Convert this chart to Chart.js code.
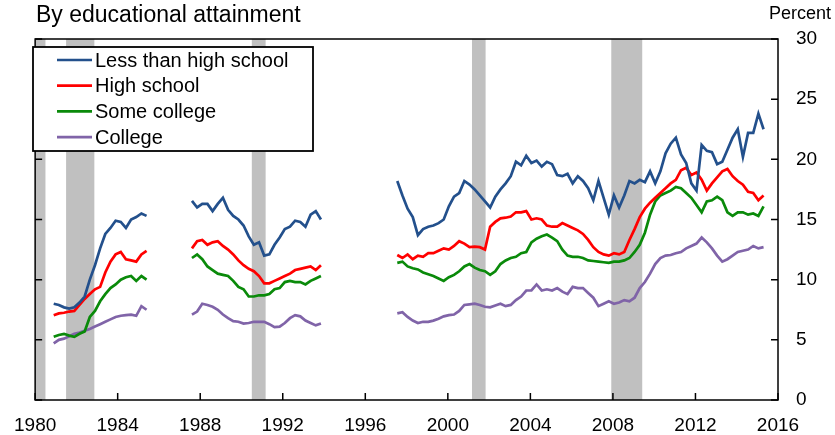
<!DOCTYPE html>
<html>
<head>
<meta charset="utf-8">
<script src="https://cdn.jsdelivr.net/npm/chart.js@4.4.1/dist/chart.umd.min.js"></script>
<style>
  html, body { margin: 0; padding: 0; background: #fff; }
</style>
</head>
<body>
<canvas id="chart" width="835" height="435"></canvas>
<script>
// quarterly points, null = no data
const years = [
  1980.9, 1981.15, 1981.4, 1981.65, 1981.9, 1982.15, 1982.4, 1982.65, 1982.9, 1983.15,
  1983.4, 1983.65, 1983.9, 1984.15, 1984.4, 1984.65, 1984.9, 1985.15, 1985.4,
  1986.5,
  1987.6, 1987.85, 1988.1, 1988.35, 1988.6, 1988.85, 1989.1, 1989.35, 1989.6, 1989.85,
  1990.1, 1990.35, 1990.6, 1990.85, 1991.1, 1991.35, 1991.6, 1991.85, 1992.1, 1992.35,
  1992.6, 1992.85, 1993.1, 1993.35, 1993.6, 1993.85,
  1995.5,
  1997.55, 1997.8, 1998.05, 1998.3, 1998.55, 1998.8, 1999.05, 1999.3, 1999.55, 1999.8,
  2000.05, 2000.3, 2000.55, 2000.8, 2001.05, 2001.3, 2001.55, 2001.8, 2002.05, 2002.3,
  2002.55, 2002.8, 2003.05, 2003.3, 2003.55, 2003.8, 2004.05, 2004.3, 2004.55, 2004.8,
  2005.05, 2005.3, 2005.55, 2005.8, 2006.05, 2006.3, 2006.55, 2006.8, 2007.05, 2007.3,
  2007.55, 2007.8, 2008.05, 2008.3, 2008.55, 2008.8, 2009.05, 2009.3, 2009.55, 2009.8,
  2010.05, 2010.3, 2010.55, 2010.8, 2011.05, 2011.3, 2011.55, 2011.8, 2012.05, 2012.3,
  2012.55, 2012.8, 2013.05, 2013.3, 2013.55, 2013.8, 2014.05, 2014.3, 2014.55, 2014.8,
  2015.05, 2015.3
];

const lessThanHighSchool = [
  8.0, 7.9, 7.7, 7.6, 7.7, 8.1, 8.6, 10.0, 11.2, 12.6, 13.8, 14.3, 14.9, 14.8, 14.3, 15.0, 15.2, 15.5, 15.3,
  null,
  16.55, 16.0, 16.3, 16.3, 15.7, 16.3, 16.8, 15.8, 15.3, 15.0, 14.5, 13.6, 12.9, 13.1, 12.0, 12.1,
  12.9, 13.5, 14.2, 14.4, 14.9, 14.8, 14.4, 15.4, 15.7, 15.0,
  null,
  18.2, 17.0, 15.9, 15.2, 13.7, 14.2, 14.4, 14.5, 14.7, 15.0, 16.1, 16.9, 17.2, 18.2, 17.9, 17.5,
  17.0, 16.5, 16.0, 16.9, 17.5, 18.0, 18.6, 19.8, 19.5, 20.3, 19.7, 19.9, 19.4, 19.8, 19.6, 18.7,
  18.6, 18.8, 18.0, 18.6, 18.2, 17.6, 16.6, 18.2, 16.8, 15.4, 17.0, 16.0, 17.0, 18.2, 18.0, 18.3,
  18.1, 19.0, 18.0, 19.0, 20.5, 21.3, 21.8, 20.4, 19.7, 18.0, 17.4, 21.2, 20.7, 20.6, 19.6, 19.8,
  20.8, 21.8, 22.5, 20.2, 22.2, 22.2, 23.8, 22.5
];

const highSchool = [
  7.05, 7.2, 7.25, 7.35, 7.4, 7.9, 8.4, 8.8, 9.2, 9.4, 10.6, 11.5, 12.1, 12.3, 11.7, 11.6, 11.5, 12.1, 12.4,
  null,
  12.6, 13.2, 13.3, 12.9, 13.1, 13.2, 12.8, 12.5, 12.1, 11.6, 11.2, 10.9, 10.7, 10.3, 9.7, 9.7,
  9.9, 10.1, 10.3, 10.5, 10.8, 10.9, 11.0, 11.1, 10.8, 11.2,
  null,
  12.05, 11.8, 12.1, 11.7, 12.0, 11.9, 12.2, 12.2, 12.4, 12.6, 12.5, 12.8, 13.2, 13.0, 12.7, 12.75,
  12.7, 12.5, 14.4, 14.8, 15.1, 15.15, 15.25, 15.6, 15.6, 15.7, 15.0, 15.1, 15.0, 14.5, 14.4, 14.4,
  14.7, 14.5, 14.3, 14.1, 13.8, 13.3, 12.7, 12.3, 12.1, 12.0, 12.2, 12.1, 12.3, 13.3, 14.2, 15.2,
  15.9, 16.4, 16.8, 17.2, 17.6, 18.0, 18.3, 19.1, 19.3, 18.7, 18.9, 18.3, 17.4, 18.0, 18.5, 19.0,
  19.2, 18.6, 18.2, 17.9, 17.3, 17.2, 16.6, 17.0
];

const someCollege = [
  5.25, 5.4, 5.5, 5.35, 5.25, 5.5, 5.7, 6.9, 7.4, 8.2, 8.8, 9.3, 9.6, 10.0, 10.2, 10.3, 9.9, 10.3, 10.0,
  null,
  11.8, 12.1, 11.7, 11.1, 10.8, 10.5, 10.4, 10.3, 9.9, 9.4, 9.2, 8.6, 8.6, 8.7, 8.7, 8.8,
  9.2, 9.3, 9.8, 9.9, 9.8, 9.8, 9.6, 9.9, 10.1, 10.3,
  null,
  11.4, 11.5, 11.1, 10.95, 10.85, 10.6, 10.45, 10.3, 10.1, 9.9, 10.2, 10.4, 10.7, 11.1, 11.3, 11.0,
  10.8, 10.7, 10.4, 10.7, 11.3, 11.6, 11.8, 11.9, 12.2, 12.3, 13.1, 13.4, 13.6, 13.75, 13.5, 13.2,
  12.5, 12.0, 11.9, 11.9, 11.8, 11.6, 11.55, 11.5, 11.45, 11.4, 11.5, 11.5, 11.6, 11.8, 12.3, 12.9,
  13.9, 15.4, 16.5, 17.0, 17.2, 17.4, 17.7, 17.6, 17.2, 16.8, 16.2, 15.6, 16.5, 16.6, 16.9, 16.6,
  15.6, 15.3, 15.6, 15.6, 15.4, 15.5, 15.3, 16.1
];

const college = [
  4.7, 5.0, 5.1, 5.3, 5.5, 5.6, 5.75, 5.9, 6.1, 6.3, 6.5, 6.7, 6.9, 7.0, 7.05, 7.1, 7.0, 7.8, 7.5,
  null,
  7.1, 7.35, 8.0, 7.9, 7.75, 7.5, 7.1, 6.8, 6.55, 6.5, 6.35, 6.4, 6.5, 6.5, 6.5, 6.3,
  6.05, 6.1, 6.4, 6.8, 7.05, 6.95, 6.6, 6.4, 6.2, 6.35,
  null,
  7.2, 7.3, 6.9, 6.6, 6.4, 6.5, 6.5, 6.6, 6.75, 6.95, 7.05, 7.1, 7.4, 7.9, 7.95, 8.0,
  7.9, 7.75, 7.7, 7.85, 8.0, 7.8, 7.9, 8.3, 8.6, 9.1, 9.1, 9.6, 9.1, 9.2, 9.1, 9.3,
  9.0, 8.8, 9.4, 9.3, 9.3, 8.9, 8.5, 7.8, 8.0, 8.2, 8.0, 8.1, 8.3, 8.2, 8.5, 9.3,
  9.8, 10.5, 11.3, 11.8, 12.0, 12.05, 12.2, 12.3, 12.6, 12.8, 13.0, 13.5, 13.1, 12.6, 12.0, 11.5,
  11.7, 12.0, 12.3, 12.4, 12.5, 12.8, 12.6, 12.7
];

const seriesLabels = ["Less than high school", "High school", "Some college", "College"];
const seriesColors = ["#23508c", "#ff0000", "#0a8a0a", "#8064a8"];

const recessionStart = [1980.0, 1981.5, 1990.5, 2001.17, 2007.92];
const recessionEnd = [1980.5, 1982.87, 1991.17, 2001.83, 2009.42];

const FONT = "'Liberation Sans', Arial, sans-serif";

const series = [lessThanHighSchool, highSchool, someCollege, college];
const datasets = series.map((values, i) => ({
  label: seriesLabels[i],
  data: years.map((x, j) => ({ x: x, y: values[j] })),
  borderColor: seriesColors[i],
  borderWidth: 2.7,
  pointRadius: 0,
  tension: 0,
  spanGaps: false,
}));

// grey recession bands behind the lines
const recessionBars = {
  id: "recessionBars",
  beforeDatasetsDraw(chart) {
    const { ctx, chartArea, scales } = chart;
    ctx.save();
    ctx.fillStyle = "#c0c0c0";
    recessionStart.forEach((s, i) => {
      const x1 = scales.x.getPixelForValue(s);
      const x2 = scales.x.getPixelForValue(recessionEnd[i]);
      ctx.fillRect(x1, chartArea.top, x2 - x1, chartArea.bottom - chartArea.top);
    });
    ctx.restore();
  },
};

// box around plot, ticks pointing inward, legend box and the two headings
const frameAndLegend = {
  id: "frameAndLegend",
  afterDatasetsDraw(chart) {
    const { ctx, chartArea, scales } = chart;
    const { left, right, top, bottom } = chartArea;
    ctx.save();
    ctx.strokeStyle = "#000";
    ctx.lineWidth = 1.5;
    ctx.strokeRect(left, top, right - left, bottom - top);

    ctx.beginPath();
    scales.x.ticks.forEach((t) => {
      const x = scales.x.getPixelForValue(t.value);
      ctx.moveTo(x, bottom);
      ctx.lineTo(x, bottom - 7);
    });
    scales.y.ticks.forEach((t) => {
      const y = scales.y.getPixelForValue(t.value);
      ctx.moveTo(right, y);
      ctx.lineTo(right - 7, y);
      ctx.moveTo(left, y);
      ctx.lineTo(left + 7, y);
    });
    ctx.stroke();

    // legend
    const bx = 33, by = 47, bw = 280, bh = 104;
    ctx.fillStyle = "#fff";
    ctx.fillRect(bx, by, bw, bh);
    ctx.lineWidth = 1.8;
    ctx.strokeRect(bx, by, bw, bh);
    ctx.font = "20px " + FONT;
    ctx.textBaseline = "middle";
    ctx.textAlign = "left";
    chart.data.datasets.forEach((ds, i) => {
      const y = by + 13 + i * 25.7;
      ctx.strokeStyle = ds.borderColor;
      ctx.lineWidth = 2.7;
      ctx.beginPath();
      ctx.moveTo(57, y);
      ctx.lineTo(92, y);
      ctx.stroke();
      ctx.fillStyle = "#000";
      ctx.fillText(ds.label, 95, y + 1);
    });

    ctx.fillStyle = "#000";
    ctx.font = "23px " + FONT;
    ctx.fillText("By educational attainment", 36, 16);
    ctx.font = "18px " + FONT;
    ctx.textAlign = "right";
    ctx.fillText("Percent", 831, 14);
    ctx.restore();
  },
};

new Chart(document.getElementById("chart"), {
  type: "line",
  data: { datasets: datasets },
  options: {
    responsive: false,
    animation: false,
    devicePixelRatio: 1,
    layout: { padding: { left: 27, top: 39, right: 0, bottom: 0 } },
    plugins: {
      legend: { display: false },
      tooltip: { enabled: false },
    },
    scales: {
      x: {
        type: "linear",
        min: 1980,
        max: 2016,
        afterFit: (s) => { s.height = 35; },
        grid: { display: false, drawTicks: false },
        border: { display: false },
        ticks: {
          stepSize: 4,
          color: "#000",
          padding: 14,
          maxRotation: 0,
          font: { family: FONT, size: 19 },
          callback: (v) => String(v),
        },
      },
      y: {
        position: "right",
        min: 0,
        max: 30,
        afterFit: (s) => { s.width = 57; },
        grid: { display: false, drawTicks: false },
        border: { display: false },
        ticks: {
          stepSize: 5,
          color: "#000",
          padding: 18,
          font: { family: FONT, size: 19 },
        },
      },
    },
  },
  plugins: [recessionBars, frameAndLegend],
});
</script>
</body>
</html>
